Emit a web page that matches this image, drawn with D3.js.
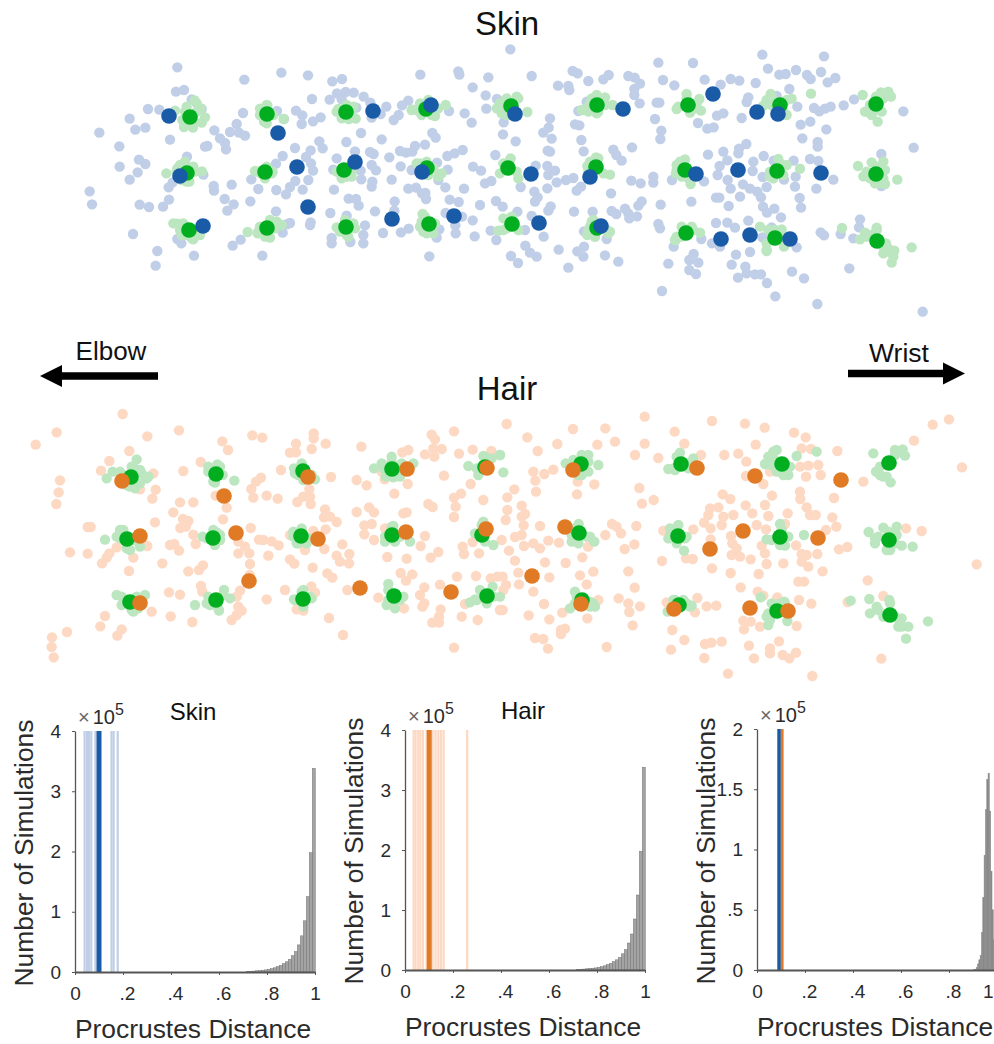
<!DOCTYPE html>
<html>
<head>
<meta charset="utf-8">
<script src="https://cdn.jsdelivr.net/npm/d3@7"></script>
<style>
body { margin: 0; background: #fff; }
text { font-family: "Liberation Sans", Arial, sans-serif; }
</style>
</head>
<body>
<svg id="plot" width="994" height="1044"></svg>
<script>
let svg = d3.select("#plot")

// scatter values in two halves at 3x
let skin_bg_w = [[322,82],[1321,28],[523,119],[634,98],[714,106],[787,124],[816,117],[1051,104],[1165,94],[1168,104],[1255,112],[1208,142],[318,155],[342,150],[365,178],[395,207],[234,207],[268,209],[179,236],[196,269],[226,263],[88,278],[300,299],[148,319],[405,320],[412,318],[351,350],[207,359],[226,372],[149,380],[203,397],[179,419],[400,404],[296,442],[308,427],[59,454],[66,493],[209,494],[237,501],[279,500],[297,479],[431,438],[432,452],[485,434],[464,477],[491,493],[472,512],[541,484],[189,582],[322,597],[334,610],[262,633],[372,647],[257,677],[519,219],[433,271],[450,295],[465,309],[468,328],[480,276],[500,252],[507,278],[525,287],[621,213],[642,237],[678,212],[697,226],[695,252],[729,244],[752,232],[726,177],[779,179],[801,160],[827,156],[851,158],[815,178],[881,170],[901,188],[859,203],[905,233],[932,222],[949,200],[971,240],[986,225],[996,196],[1015,182],[873,279],[935,298],[829,306],[748,304],[758,325],[675,324],[722,331],[855,334],[900,336],[911,342],[958,352],[990,333],[1008,338],[1035,318],[1027,335],[1065,314],[1087,279],[1097,293],[1137,213],[1184,220],[1205,248],[1247,166],[1249,206],[1281,177],[1299,283],[1301,247],[1337,304],[1276,345],[1178,330],[1154,340],[1132,348],[1101,368],[992,379],[1025,390],[638,348],[618,371],[708,351],[723,370],[729,392],[800,355],[790,389],[872,392],[905,375],[918,391],[874,418],[907,425],[905,440],[965,419],[1133,389],[1209,380],[1233,392],[1245,430],[1264,423],[1182,446],[1126,442],[1105,420],[1015,446],[1038,443],[1056,460],[1066,459],[1068,477],[1139,479],[1166,486],[1230,495],[1278,483],[1298,500],[1127,519],[1176,530],[1208,541],[1156,556],[1157,580],[1214,589],[1262,572],[1279,600],[1100,593],[1108,568],[1016,566],[993,577],[939,579],[1078,649],[1323,648],[1344,669],[1342,515],[544,418],[565,447],[619,450],[648,463],[660,441],[676,423],[715,420],[698,449],[792,449],[836,476],[858,477],[866,497],[915,514],[974,484],[973,512],[781,519],[830,527],[618,514],[722,547],[720,555],[660,549],[652,552],[638,578],[885,556],[880,585],[880,610],[841,606],[785,594],[785,610],[512,599],[488,617],[577,647]]
let skin_bg_e = [[95,108],[218,93],[233,100],[174,137],[205,138],[208,150],[265,123],[310,118],[326,105],[385,108],[404,113],[420,131],[403,147],[403,165],[419,190],[475,68],[579,69],[489,120],[523,136],[614,119],[662,134],[692,117],[718,122],[767,129],[787,44],[804,86],[838,104],[857,102],[888,90],[921,105],[932,117],[963,96],[972,49],[1006,114],[983,127],[868,147],[745,172],[740,186],[830,168],[470,188],[478,188],[235,213],[260,185],[892,200],[942,204],[958,214],[975,206],[992,200],[1031,196],[1062,178],[1210,214],[150,235],[146,263],[130,278],[155,296],[225,253],[238,256],[244,300],[251,334],[340,329],[349,345],[365,362],[396,322],[465,237],[484,272],[481,297],[594,249],[622,266],[641,262],[651,227],[670,220],[725,234],[902,254],[931,245],[979,268],[907,295],[953,306],[953,320],[1241,323],[624,344],[670,335],[717,326],[715,340],[739,312],[682,361],[659,378],[653,405],[760,365],[791,348],[821,362],[881,362],[930,357],[955,363],[1144,342],[758,393],[788,411],[852,419],[887,410],[885,440],[949,446],[1000,419],[143,332],[150,335],[107,377],[142,378],[165,392],[145,405],[170,427],[198,420],[220,414],[142,445],[62,441],[103,455],[113,472],[105,485],[230,452],[243,440],[333,460],[394,422],[422,430],[460,410],[460,428],[516,420],[612,424],[683,420],[692,446],[729,433],[750,446],[772,455],[783,472],[800,441],[648,473],[658,473],[720,470],[574,485],[686,498],[899,474],[903,503],[789,500],[823,506],[801,518],[843,532],[482,494],[222,515],[278,515],[152,499],[145,512],[335,513],[349,522],[375,506],[385,520],[388,535],[411,529],[415,497],[425,484],[95,528],[252,574],[285,590],[320,597],[475,552],[480,565],[648,549],[682,548],[705,563],[745,542],[636,610],[660,620],[604,597],[521,620],[750,636],[708,644],[787,592],[815,562],[890,622],[962,577],[972,586],[1022,582],[1080,538],[1077,562],[1060,595],[76,617],[90,638],[110,650],[131,590],[75,570],[176,629],[232,634],[252,620],[250,650],[205,683],[315,646],[355,665],[581,642],[568,660],[595,668],[568,690],[588,702],[505,671],[695,674],[736,680],[740,700],[765,703],[783,703],[714,713],[801,729],[876,695],[912,715],[1048,685],[486,753],[826,769],[952,792],[1268,815],[1144,438]]
let skin_sim_w = [[374,181],[393,205],[405,232],[395,248],[369,263],[342,261],[337,240],[350,200],[315,212],[345,215],[380,215],[370,245],[345,245],[380,190],[592,196],[570,206],[582,245],[641,237],[570,225],[610,225],[590,250],[590,195],[805,207],[830,195],[857,236],[836,237],[800,215],[850,200],[815,235],[845,225],[1030,209],[1050,190],[1075,180],[1095,228],[1127,195],[1048,215],[1025,210],[1055,225],[1085,225],[1105,205],[1280,205],[1310,175],[1340,170],[1295,220],[1290,190],[1295,205],[1310,225],[1345,175],[289,400],[396,394],[330,375],[322,385],[358,425],[370,380],[345,365],[320,395],[340,375],[375,395],[350,425],[335,420],[555,393],[608,395],[590,380],[572,400],[565,395],[605,400],[585,415],[815,415],[845,410],[810,400],[800,395],[830,410],[845,395],[1070,365],[1040,370],[1105,410],[1115,400],[1050,370],[1090,385],[1075,405],[1322,355],[1290,400],[1345,415],[1300,370],[1320,360],[1340,395],[322,551],[340,550],[310,550],[390,585],[370,598],[330,570],[345,585],[330,555],[335,585],[385,570],[365,595],[533,576],[563,580],[600,593],[620,545],[635,555],[570,560],[610,560],[565,575],[585,590],[615,565],[600,540],[800,562],[850,550],[810,575],[835,590],[805,565],[830,585],[855,565],[825,540],[1058,522],[1060,575],[1090,580],[1055,545],[1050,560],[1070,580],[1095,550],[1065,530],[1285,572],[1300,535],[1310,565],[1300,570],[1325,530],[1345,570]]
let skin_sim_e = [[290,165],[315,172],[338,195],[265,215],[245,210],[295,215],[270,190],[265,200],[275,175],[315,195],[290,220],[82,216],[560,162],[598,177],[603,212],[530,207],[585,205],[535,200],[560,175],[590,190],[570,218],[812,162],[800,180],[790,197],[875,176],[933,161],[815,195],[860,225],[810,185],[815,170],[860,180],[825,205],[850,215],[1088,165],[1143,157],[1165,155],[1173,170],[1095,215],[1115,225],[1133,245],[1128,170],[1100,215],[1125,210],[1145,215],[1150,175],[1110,195],[288,352],[330,404],[262,378],[270,365],[270,375],[265,395],[310,400],[295,355],[555,358],[530,375],[572,432],[528,400],[530,390],[540,365],[565,415],[545,410],[835,357],[900,386],[810,410],[860,375],[810,395],[850,405],[840,370],[820,415],[1074,378],[1115,367],[1150,365],[1192,419],[1090,409],[1125,430],[1155,432],[1100,395],[1110,415],[1150,415],[1130,380],[1155,390],[1140,430],[262,585],[330,575],[280,540],[270,560],[265,570],[275,545],[320,570],[325,580],[285,590],[600,578],[527,600],[545,590],[575,560],[530,590],[545,560],[580,570],[525,600],[780,560],[845,568],[800,633],[852,620],[815,600],[800,610],[805,570],[850,590],[825,570],[800,630],[1026,564],[1095,578],[1080,598],[1130,563],[1158,610],[1165,635],[1183,632],[1175,668],[1150,640],[1180,650],[1235,622],[1100,590],[1115,585],[1150,620],[1130,570],[1165,625]]
let hair_bg_w = [[308,42],[110,97],[47,134],[382,109],[477,91],[607,124],[624,150],[697,106],[727,113],[881,100],[881,115],[828,131],[917,131],[875,147],[810,158],[828,157],[1024,140],[1235,104],[1302,94],[1245,118],[1358,149],[1317,161],[1414,153],[1265,147],[1240,145],[1215,163],[1243,170],[1165,150],[1147,157],[328,153],[268,183],[243,212],[400,220],[360,268],[407,269],[397,296],[120,241],[116,277],[109,312],[490,213],[542,186],[783,210],[723,233],[708,245],[694,267],[700,293],[740,287],[773,296],[933,231],[1010,240],[1040,256],[1272,227],[1352,252],[1094,238],[1085,215],[1163,252],[1123,281],[850,290],[868,267],[870,290],[832,306],[872,312],[1323,281],[1302,293],[1307,320],[1302,351],[1390,300],[1225,312],[1238,321],[480,307],[520,307],[460,337],[587,287],[620,323],[609,358],[489,357],[505,363],[497,380],[481,384],[405,367],[203,381],[212,381],[915,328],[912,352],[930,350],[950,366],[1010,336],[1047,322],[1062,337],[1150,340],[1160,337],[1033,376],[1055,372],[1033,403],[1095,385],[1062,420],[692,384],[520,404],[527,432],[463,432],[450,435],[477,452],[655,425],[675,440],[655,460],[688,460],[690,492],[717,419],[730,420],[755,424],[776,436],[745,467],[810,405],[880,393],[917,388],[855,450],[913,447],[967,433],[950,467],[960,485],[988,462],[987,490],[1215,408],[1202,438],[1328,440],[1332,462],[1255,456],[1232,473],[1377,460],[1358,426],[1102,471],[1160,476],[150,457],[203,461],[268,460],[260,473],[246,490],[340,473],[382,438],[290,442],[327,513],[427,490],[505,514],[537,510],[549,496],[810,478],[823,491],[878,503],[922,520],[937,533],[1142,519],[1177,523],[1158,542],[1311,530],[1368,528],[1412,535],[1432,530],[689,525],[543,558],[547,575],[447,577],[480,584],[650,590],[660,572],[795,570],[740,598],[982,570],[874,559],[885,578],[1075,593],[1213,562],[1200,585],[1260,554],[1213,610],[1207,620],[1152,625],[1335,612],[1262,628],[1257,650],[1237,668],[1257,668],[1373,660],[1325,650],[1440,630],[395,635],[452,649],[517,666],[255,648],[241,679],[305,688],[292,707],[141,696],[96,712],[95,741],[101,772],[665,632],[650,645],[635,660],[655,620],[830,628],[850,632],[927,654],[969,705],[1302,743]]
let hair_bg_e = [[20,72],[82,112],[113,153],[172,132],[219,87],[316,85],[292,134],[345,125],[434,50],[524,95],[636,63],[735,71],[794,83],[882,98],[917,112],[1298,74],[1347,58],[1242,122],[405,165],[434,131],[475,174],[553,131],[603,165],[673,165],[715,161],[739,185],[767,134],[905,145],[933,147],[1012,153],[1386,202],[900,200],[925,197],[955,195],[918,230],[962,225],[790,252],[810,215],[738,228],[1090,245],[233,245],[283,253],[231,283],[100,215],[106,242],[133,222],[160,209],[108,275],[43,268],[22,292],[22,330],[65,317],[75,342],[65,350],[17,360],[71,376],[120,378],[418,264],[426,311],[461,300],[668,283],[691,297],[816,287],[900,275],[901,297],[1002,294],[737,316],[795,315],[655,322],[630,325],[625,345],[670,350],[700,345],[757,340],[805,348],[863,340],[920,322],[930,345],[947,345],[997,352],[1009,380],[978,390],[855,372],[770,375],[798,388],[665,375],[632,385],[612,368],[580,388],[490,392],[409,378],[336,372],[350,380],[363,400],[316,405],[264,440],[403,433],[374,447],[177,428],[145,422],[120,445],[100,430],[72,438],[45,411],[65,405],[5,420],[27,452],[45,482],[135,487],[197,489],[247,472],[486,483],[558,475],[578,477],[636,505],[632,418],[693,408],[697,430],[710,445],[695,465],[720,470],[752,478],[800,492],[795,460],[785,437],[888,436],[905,462],[920,465],[905,485],[925,500],[850,490],[952,462],[1017,448],[1042,441],[968,514],[776,522],[692,519],[385,514],[240,526],[280,515],[148,532],[55,518],[8,530],[18,555],[10,570],[57,553],[100,575],[260,553],[404,563],[1103,541],[1218,385],[1265,393],[1430,493],[895,545],[912,545],[722,562],[773,575],[790,587],[832,592],[897,600],[934,611],[1043,606],[1150,588],[592,594],[620,619],[649,617],[500,607],[585,637],[132,612],[86,646],[148,658],[187,638],[8,630],[295,600],[356,595],[385,610],[420,619],[388,636],[398,676],[262,655],[517,690],[553,720],[513,749],[183,690],[195,686],[183,702],[105,714],[130,717],[144,746],[320,741],[615,732],[634,728],[665,725],[747,737],[730,662],[752,665],[732,688],[780,680],[890,678],[837,724],[810,745],[810,760],[848,765],[868,775],[888,758],[613,774],[762,775],[684,821],[937,828],[1144,776]]
let hair_sim_w = [[350,178],[278,215],[260,235],[380,235],[385,230],[360,210],[335,200],[320,255],[345,265],[310,225],[340,200],[365,220],[360,250],[330,260],[300,215],[592,193],[565,200],[580,245],[643,242],[565,215],[600,200],[585,248],[608,225],[822,205],[885,238],[835,225],[825,220],[845,190],[875,225],[850,240],[1062,205],[1085,190],[1115,170],[1180,190],[1097,230],[1140,230],[1090,205],[1115,185],[1150,215],[1120,232],[1145,190],[1345,198],[1390,168],[1440,165],[1370,205],[1375,225],[1415,175],[1395,170],[255,419],[300,390],[290,410],[330,450],[360,440],[300,415],[310,390],[345,420],[320,445],[590,397],[548,410],[600,420],[560,415],[600,405],[580,390],[585,435],[820,395],[860,430],[830,430],[820,410],[845,385],[865,415],[835,430],[1120,378],[1095,425],[1170,425],[1095,410],[1115,380],[1140,410],[1125,425],[1390,365],[1420,435],[1365,400],[1385,375],[1395,425],[290,585],[375,585],[305,615],[340,635],[305,590],[315,610],[350,590],[335,630],[355,625],[525,615],[612,570],[630,595],[597,632],[560,610],[565,590],[570,615],[610,585],[595,625],[822,598],[870,590],[850,570],[825,600],[845,575],[875,595],[850,620],[1105,552],[1100,615],[1150,590],[1125,625],[1105,570],[1105,600],[1140,600],[1120,610],[1350,607],[1365,598],[1418,560],[1440,590],[1370,600],[1380,570],[1420,590],[1400,610]]
let hair_sim_e = [[0,165],[10,217],[265,165],[295,195],[197,190],[235,225],[220,180],[265,185],[245,165],[245,225],[265,215],[540,158],[580,175],[505,207],[525,210],[565,205],[520,205],[530,170],[565,190],[575,195],[820,155],[805,170],[795,192],[890,168],[950,155],[865,225],[830,215],[820,175],[815,195],[830,150],[870,200],[850,225],[1120,160],[1185,150],[1208,148],[1215,167],[1128,215],[1150,230],[1172,247],[1140,200],[1140,225],[1160,230],[1185,165],[1195,155],[236,372],[283,425],[215,425],[270,410],[215,405],[225,385],[260,410],[235,430],[535,375],[510,385],[505,415],[552,452],[555,415],[510,405],[525,385],[560,410],[530,430],[840,372],[800,418],[912,405],[855,437],[815,420],[845,390],[865,410],[840,435],[1106,396],[1150,383],[1190,380],[1238,440],[1125,430],[1160,450],[1205,437],[1135,410],[1125,415],[1170,450],[1185,430],[1190,405],[1165,395],[225,575],[280,610],[210,625],[285,620],[225,610],[230,590],[270,605],[270,620],[503,635],[575,617],[550,600],[520,600],[515,620],[525,600],[560,610],[570,620],[782,592],[853,605],[862,663],[800,650],[805,675],[805,640],[815,610],[855,610],[810,660],[840,610],[1052,602],[1108,597],[1130,620],[1110,640],[1168,600],[1205,655],[1225,680],[1195,680],[1218,716],[1284,664],[1135,630],[1150,650],[1185,650],[1200,665],[1170,610],[1205,680]]

// means, same units as the figure
let skin_green = [[190,117],[267,114],[346,112],[426,109],[511,106],[597,105],[688,105],[780,105],[876,104],[187,173],[265,172],[344,170],[427,168],[508,168],[596,167],[685,170],[777,171],[876,174],[189,230],[267,228],[346,227],[429,224],[512,224],[597,228],[686,233],[775,238],[877,241]]
let skin_blue = [[169,116],[278,133],[373,111],[431,105],[515,114],[623,109],[713,94],[757,112],[778,114],[180,176],[297,167],[355,162],[422,172],[531,174],[590,177],[696,174],[738,170],[821,173],[203,226],[308,207],[392,219],[454,216],[539,223],[601,226],[721,239],[750,235],[790,239]]
let hair_green = [[131,477],[216,474],[303,471],[392,469],[485,467],[581,464],[681,464],[782,464],[889,463],[127,539],[213,538],[301,536],[392,535],[482,535],[579,533],[678,536],[780,537],[889,540],[130,602],[216,600],[303,599],[394,596],[487,596],[582,600],[679,605],[777,611],[890,615]]
let hair_orange = [[122,481],[224,496],[308,477],[407,469],[487,468],[573,470],[697,468],[755,476],[841,480],[140,536],[236,533],[318,539],[406,532],[486,529],[565,527],[743,531],[710,549],[818,538],[249,581],[360,588],[451,592],[532,576],[140,603],[581,604],[674,609],[750,608],[788,611]]

// histograms (counts in units of 1e5)
let hist_bins = [.995,.9825,.97,.9575,.945,.9325,.92,.9075,.895,.8825,.87,.8575,.845,.8325,.82,.8075,.795,.7825,.77,.7575,.745,.7325,.72]
let hist_counts = [3.38,1.98,1.25,.85,.6,.45,.34,.27,.21,.17,.14,.11,.09,.07,.055,.045,.035,.03,.025,.02,.015,.012,.01]
let both_bins = [.905,.9105,.916,.9215,.927,.9325,.938,.9435,.949,.9545,.96,.9655,.971,.9765,.982,.9875,.993]
let both_counts = [.002,.006,.02,.05,.085,.12,.31,.6,.95,1.33,1.58,1.63,1.32,.82,.5,.25,.1]

let skin_lines = [.04,.05,.058,.068,.085,.152,.161,.178]
let hair_lines = [.036,.044,.055,.064,.075,.09,.115,.127,.139,.15,.161,.259]

let x_ticks = [0,.2,.4,.6,.8,1]
let x_tick_labels = ["0",".2",".4",".6",".8","1"]
let y_ticks_a = [0,1,2,3,4]
let y_tick_labels_a = ["0","1","2","3","4"]
let y_ticks_b = [0,.5,1,1.5,2]
let y_tick_labels_b = ["0",".5","1","1.5","2"]

let col_blue = "#1a5ba8", col_blue_lt = "#c0cfe7"
let col_orange = "#e07a25", col_orange_lt = "#fdd8c2"
let col_green = "#00ae1f", col_green_lt = "#bce6c0"
let col_grey = "#a3a3a3", col_axis = "#555"
let col_text = "#2b2b2b"

function crop_scales(x0, y0) {
    return {
        x: d3.scaleLinear([0, 3], [x0, x0 + 1]),
        y: d3.scaleLinear([0, 3], [y0, y0 + 1])
    }
}
let fig_scales = {x: d3.scaleLinear([0, 994], [0, 994]), y: d3.scaleLinear([0, 1044], [0, 1044])}
let skin_w = crop_scales(70, 40), skin_e = crop_scales(500, 40)
let hair_w = crop_scales(20, 400), hair_e = crop_scales(500, 400)

function dots(pts, sc, r, fill) {
    svg.append("g").selectAll("circle")
    .data(pts)
    .join("circle")
    .attr("cx", (d) => sc.x(d[0]))
    .attr("cy", (d) => sc.y(d[1]))
    .attr("r", r)
    .attr("fill", fill)
}

dots(skin_bg_w, skin_w, 5.2, col_blue_lt)
dots(skin_bg_e, skin_e, 5.2, col_blue_lt)
dots(skin_sim_w, skin_w, 5.2, col_green_lt)
dots(skin_sim_e, skin_e, 5.2, col_green_lt)
dots(skin_green, fig_scales, 7.8, col_green)
dots(skin_blue, fig_scales, 7.8, col_blue)

dots(hair_bg_w, hair_w, 5.2, col_orange_lt)
dots(hair_bg_e, hair_e, 5.2, col_orange_lt)
dots(hair_sim_w, hair_w, 5.2, col_green_lt)
dots(hair_sim_e, hair_e, 5.2, col_green_lt)
dots(hair_green, fig_scales, 7.8, col_green)
dots(hair_orange, fig_scales, 7.8, col_orange)

/*--------------- Titles and arrows -------------- */
function label(x, y, txt, size) {
    return svg.append("text")
    .attr("x", x).attr("y", y)
    .attr("text-anchor", "middle")
    .attr("font-size", size)
    .attr("fill", "#111")
    .text(txt)
}
label(507, 35, "Skin", 33)
label(507, 400, "Hair", 33)
label(111, 360, "Elbow", 26)
label(899, 362, "Wrist", 26.5)

function arrow(x_from, x_to, y, head_len) {
    let dir = x_to > x_from ? 1 : -1
    svg.append("line")
    .attr("x1", x_from).attr("x2", x_to - dir * head_len)
    .attr("y1", y).attr("y2", y)
    .attr("stroke", "#000").attr("stroke-width", 7.5)
    svg.append("path")
    .attr("d", `M${x_to},${y} L${x_to - dir * head_len},${y - 11} L${x_to - dir * head_len},${y + 11} Z`)
    .attr("fill", "#000")
}
arrow(158, 40, 376, 22)
arrow(848, 965, 373.5, 22)

/*--------------- Histograms -------------- */
function hist_panel(p) {
    let x_scale = d3.scaleLinear([0, 1], [p.left, p.left + 240])
    let y_scale = d3.scaleLinear([0, p.y_max], [p.bottom, p.top])

    let g = svg.append("g")

    g.selectAll("line.vert")
    .data(p.lines)
    .join("line")
    .attr("x1", (d) => x_scale(d[0])).attr("x2", (d) => x_scale(d[0]))
    .attr("y1", y_scale(0)).attr("y2", y_scale(p.y_max))
    .attr("stroke", (d) => d[1])
    .attr("stroke-width", (d) => d[2])

    g.selectAll("rect")
    .data(p.bins)
    .join("rect")
    .attr("x", (d, i) => x_scale(d - p.bin_w / 2))
    .attr("width", x_scale(p.bin_w) - x_scale(0))
    .attr("y", (d, i) => y_scale(p.counts[i]))
    .attr("height", (d, i) => y_scale(0) - y_scale(p.counts[i]))
    .attr("fill", p.bar_fill)
    .attr("stroke", p.bar_stroke)
    .attr("stroke-width", 0.5)

    let x_axis = d3.axisBottom(x_scale).tickValues(x_ticks)
    .tickFormat((d, i) => x_tick_labels[i]).tickSize(3).tickSizeOuter(0).tickPadding(12)
    let y_axis = d3.axisLeft(y_scale).tickValues(p.y_ticks)
    .tickFormat((d, i) => p.y_labels[i]).tickSize(3).tickSizeOuter(0).tickPadding(11)

    let gx = g.append("g").attr("transform", `translate(0,${p.bottom})`).call(x_axis)
    let gy = g.append("g").attr("transform", `translate(${p.left},0)`).call(y_axis)
    gx.select(".domain").attr("stroke", col_axis).attr("stroke-width", 2)
    gy.select(".domain").attr("stroke", col_axis).attr("stroke-width", 1.3)
    g.selectAll(".tick line").attr("stroke", col_axis)
    g.selectAll(".tick text")
    .attr("font-family", "Liberation Sans, Arial, sans-serif")
    .attr("font-size", 19)
    .attr("fill", col_text)
    // the leading dot is narrow, the reference centres the labels a bit to the right of the tick
    gx.selectAll(".tick text").attr("dx", (d, i) => x_tick_labels[i][0] == "." ? 4 : 0)

    // last tick of the third panel falls past the page edge, pull its label in
    if (p.left + 240 > 994) {
        gx.selectAll(".tick text").filter((d) => d == 1)
        .attr("text-anchor", "end")
        .attr("transform", `translate(${993 - (p.left + 240)},0)`)
    }

    // x10^5 multiplier
    let mult = g.append("text").attr("x", p.left + 3).attr("y", p.top - 7)
    .attr("font-size", 20).attr("fill", col_text)
    mult.append("tspan").attr("fill", "#666").text("\u00d7")
    mult.append("tspan").attr("dx", 3).text("10")
    mult.append("tspan").attr("dy", -9).attr("font-size", 16).text("5")

    g.append("text")
    .attr("text-anchor", "middle")
    .attr("transform", `translate(${p.left - 42},${p.bottom - 119}) rotate(-90)`)
    .attr("font-size", 26.4).attr("fill", col_text)
    .text("Number of Simulations")

    g.append("text")
    .attr("text-anchor", "middle")
    .attr("x", p.left + 118).attr("y", p.bottom + 66)
    .attr("font-size", 26.4).attr("fill", col_text)
    .text("Procrustes Distance")

    if (p.title) {
        g.append("text")
        .attr("text-anchor", "middle")
        .attr("x", p.left + 118).attr("y", p.top - 11)
        .attr("font-size", 24).attr("fill", "#111")
        .text(p.title)
    }
}

hist_panel({
    left: 75, bottom: 972, top: 731, y_max: 4,
    y_ticks: y_ticks_a, y_labels: y_tick_labels_a,
    bins: hist_bins, counts: hist_counts, bin_w: .0125,
    bar_fill: col_grey, bar_stroke: "#777",
    lines: skin_lines.map((d) => [d, col_blue_lt, 2.2]).concat([[.1, col_blue, 5]]),
    title: "Skin"
})
hist_panel({
    left: 405, bottom: 970, top: 730, y_max: 4,
    y_ticks: y_ticks_a, y_labels: y_tick_labels_a,
    bins: hist_bins, counts: hist_counts, bin_w: .0125,
    bar_fill: col_grey, bar_stroke: "#777",
    lines: hair_lines.map((d) => [d, col_orange_lt, 2.2]).concat([[.101, col_orange, 5]]),
    title: "Hair"
})
hist_panel({
    left: 757, bottom: 970, top: 729, y_max: 2,
    y_ticks: y_ticks_b, y_labels: y_tick_labels_b,
    bins: both_bins, counts: both_counts, bin_w: .0055,
    bar_fill: "#8a8a8a", bar_stroke: "#8a8a8a",
    lines: [[.092, col_blue, 3.6], [.105, col_orange, 2.8]],
    title: null
})
</script>
</body>
</html>
